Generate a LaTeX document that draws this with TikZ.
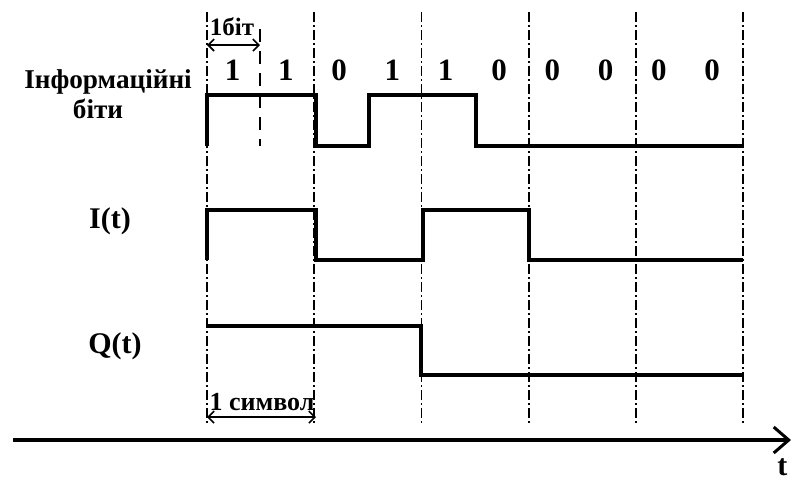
\documentclass[tikz,border=0pt]{standalone}
\usepackage{fontspec}
\setmainfont{Liberation Serif}
\usetikzlibrary{arrows.meta, positioning}

\begin{document}
\begin{tikzpicture}[
    x = 0.5pt, y = -0.5pt,
    font = \bfseries\fontsize{15}{17}\selectfont,
    wave/.style={
      line width = 2.2pt,
      line join = miter,
    },
    grid/.style={
      line width = 0.9pt,
      dash pattern = on 5pt off 1.5pt on 1pt off 1.5pt,
    },
    halfbit/.style={
      line width = 1pt,
      dash pattern = on 6.5pt off 4.5pt,
    },
    dim/.style={
      {Straight Barb[length = 3pt, width = 6pt]}-{Straight Barb[length = 3pt, width = 6pt]},
      line width = 0.8pt,
    },
    lbl/.style={anchor = base, inner sep = 0pt},
    cyr/.style={font = \bfseries\fontsize{13.6}{15}\selectfont},
  ]
  \useasboundingbox (0,0) rectangle (792,479);

  % symbol boundaries
  \foreach \k in {0,...,5} {
    \coordinate (top\k) at (207+107.2*\k, 12);
    \coordinate (bot\k) at (207+107.2*\k, 424);
    \draw[grid] (top\k) -- (bot\k);
  }
  \coordinate (htop) at (260, 29);
  \coordinate (hbot) at (260, 146);
  \draw[halfbit] (htop) -- (hbot);

  % labels
  \node[lbl, cyr] (info) at (108, 88) {Інформаційні};
  \node[lbl, cyr] (bits) at (98, 118) {біти};
  \node[lbl] (it) at (110, 228) {I(t)};
  \node[lbl] (qt) at (115, 353) {Q(t)};

  \foreach \b [count = \i from 0] in {1,1,0,1,1,0,0,0,0,0}
    \node[lbl, font = \bfseries\fontsize{15.5}{17}\selectfont] (b\i) at (232.5+53.3*\i, 80) {\b};

  % one bit / one symbol
  \coordinate (bitL) at (207, 45);
  \coordinate (bitR) at (260, 45);
  \draw[dim] (bitL) -- (bitR);
  \node[lbl, font = \bfseries\fontsize{12.5}{14}\selectfont] (onebit) at (232, 35) {1біт};

  \coordinate (symL) at (207, 417);
  \coordinate (symR) at (316, 417);
  \draw[dim] (symL) -- (symR);
  \node[lbl, font = \bfseries\fontsize{13}{15}\selectfont] (onesym) at (262, 410) {1 символ};

  % waveforms
  \draw[wave] (207,146) -- (207,95) -- (316,95) -- (316,146) -- (369,146)
    -- (369,95) -- (476,95) -- (476,146) -- (743,146);
  \draw[wave] (207,260) -- (207,210) -- (316,210) -- (316,260) -- (423,260)
    -- (423,210) -- (529,210) -- (529,260) -- (743,260);
  \draw[wave] (207,326) -- (421,326) -- (421,375) -- (743,375);

  % time axis
  \coordinate (ax0) at (13, 440);
  \coordinate (ax1) at (791, 440);
  \draw[line width = 2pt, -{Straight Barb[length = 7.5pt, width = 13pt, line width = 1.5pt]}]
    (ax0) -- (ax1);
  \node[anchor = base west, inner sep = 0pt] (tlab) at (777, 475) {t};
\end{tikzpicture}
\end{document}
